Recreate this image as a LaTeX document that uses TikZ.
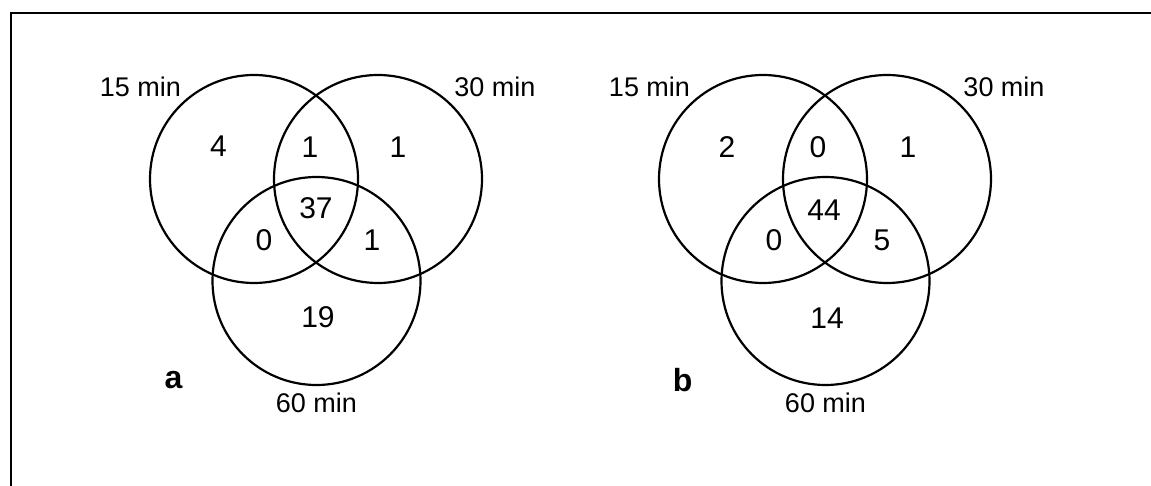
\documentclass[tikz,border=0pt]{standalone}
\usepackage{fontspec}
\setmainfont{Liberation Sans}
\begin{document}
\begin{tikzpicture}[x=1pt,y=-1pt,
  setcircle/.style={draw, circle, line width=2.2pt, minimum size=208pt, inner sep=0pt},
  count/.style={inner sep=0pt, font=\fontsize{30}{36}\selectfont},
  setlabel/.style={inner sep=0pt, font=\fontsize{27}{32}\selectfont},
  panellabel/.style={inner sep=0pt, font=\fontsize{32}{38}\selectfont\bfseries},
  frameline/.style={line width=1.2pt}]
\useasboundingbox (0,0) rectangle (1151,486);

% frame edges
\coordinate (frameTR) at (1152,13);
\coordinate (frameTL) at (11,13);
\coordinate (frameBL) at (11,487);
\draw[frameline] (frameTR) -- (frameTL) -- (frameBL);

% ---- panel a ----
\node[setcircle] (a15) at (254,179) {};
\node[setcircle] (a30) at (378,179) {};
\node[setcircle] (a60) at (316.5,281) {};
\node[setlabel] (a15lab) at (140.5,87) {15 min};
\node[setlabel] (a30lab) at (495,87) {30 min};
\node[setlabel] (a60lab) at (316.5,403) {60 min};
\node[count] (aA)   at (218.5,146) {4};
\node[count] (aAB)  at (310,147) {1};
\node[count] (aB)   at (398,147) {1};
\node[count] (aABC) at (316,208) {37};
\node[count] (aAC)  at (264,240) {0};
\node[count] (aBC)  at (372,240) {1};
\node[count] (aC)   at (318,317) {19};
\node[panellabel] (alab) at (173.6,380.5) {a};

% ---- panel b ----
\node[setcircle] (b15) at (763,179) {};
\node[setcircle] (b30) at (887,179) {};
\node[setcircle] (b60) at (825.5,281) {};
\node[setlabel] (b15lab) at (649.5,87) {15 min};
\node[setlabel] (b30lab) at (1004,87) {30 min};
\node[setlabel] (b60lab) at (825.5,403) {60 min};
\node[count] (bA)   at (727,147) {2};
\node[count] (bAB)  at (818,147) {0};
\node[count] (bB)   at (908,147) {1};
\node[count] (bABC) at (824,210) {44};
\node[count] (bAC)  at (774,240) {0};
\node[count] (bBC)  at (882,240) {5};
\node[count] (bC)   at (827,318) {14};
\node[panellabel] (blab) at (682.6,380.5) {b};
\end{tikzpicture}
\end{document}
